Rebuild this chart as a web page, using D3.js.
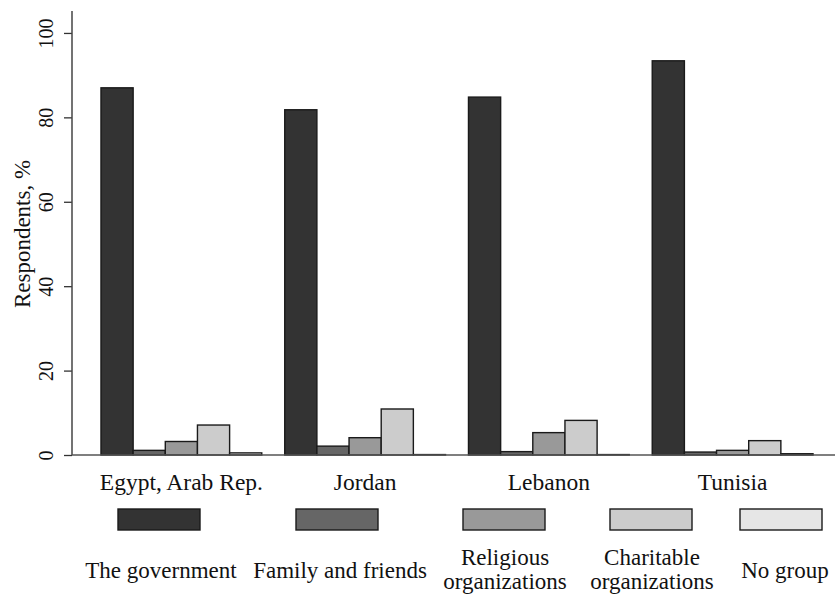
<!DOCTYPE html>
<html>
<head>
<meta charset="utf-8">
<script src="https://cdn.jsdelivr.net/npm/d3@7"></script>
<style>
	body { margin: 0; background: #fff; }
	text { font-family: "Liberation Serif", "Times New Roman", serif; fill: #111; }
</style>
</head>
<body>
<script>
// data
var countries = ["Egypt, Arab Rep.", "Jordan", "Lebanon", "Tunisia"];
var groups = ["The government", "Family and friends", "Religious organizations", "Charitable organizations", "No group"];
var government = [87.0, 81.8, 84.8, 93.4];
var family = [1.1, 2.1, 0.8, 0.7];
var religious = [3.2, 4.1, 5.3, 1.1];
var charitable = [7.1, 10.9, 8.2, 3.4];
var noGroup = [0.5, 0.1, 0.1, 0.3];
var yTicks = [0, 20, 40, 60, 80, 100];

var colours = ["#333333", "#666666", "#999999", "#cccccc", "#e6e6e6"];

var svgDims = { width: 835, height: 594 };

var svg = d3.select("body").append("svg")
	.attr("width", svgDims.width)
	.attr("height", svgDims.height);

var series = [government, family, religious, charitable, noGroup];

// one row per country, one value per group
var table = countries.map(function(c, i) {
	return { country: c, values: series.map(function(s, j) { return { key: groups[j], idx: j, value: s[i] }; }) };
});

var y = d3.scaleLinear().domain([0, 105.2]).range([455, 11]);

var x0 = d3.scaleBand()
	.domain(countries)
	.range([89.5, 824.5])
	.paddingInner(0.125)
	.paddingOuter(0.0625);

var x1 = d3.scaleBand()
	.domain(d3.range(groups.length))
	.range([0, x0.bandwidth()]);

// y axis
var yAxis = svg.append("g")
	.attr("transform", "translate(72,0)")
	.call(d3.axisLeft(y).tickValues(yTicks).tickSize(8).tickPadding(0).tickFormat(d3.format("d")));
yAxis.select(".domain").remove();
yAxis.selectAll(".tick line").attr("stroke", "#333").attr("stroke-width", 1.3);
yAxis.selectAll(".tick text")
	.attr("x", 0).attr("dy", 0)
	.attr("transform", "translate(-19,0) rotate(-90)")
	.attr("text-anchor", "middle")
	.style("font-size", "20px")
	.style("font-family", "'Liberation Serif', serif")
	.attr("fill", "#111");

svg.append("line")
	.attr("x1", 72).attr("x2", 72)
	.attr("y1", y.range()[1]).attr("y2", y(0))
	.attr("stroke", "#444").attr("stroke-width", 1.5);

svg.append("text")
	.attr("transform", "translate(30,234) rotate(-90)")
	.attr("text-anchor", "middle")
	.style("font-size", "23px")
	.text("Respondents, %");

// bars
var grp = svg.selectAll("g.country")
	.data(table)
	.enter().append("g")
	.attr("class", "country")
	.attr("transform", function(d) { return "translate(" + x0(d.country) + ",0)"; });

grp.selectAll("rect")
	.data(function(d) { return d.values; })
	.enter().append("rect")
	.attr("x", function(d) { return x1(d.idx); })
	.attr("width", x1.bandwidth())
	.attr("y", function(d) { return y(d.value); })
	.attr("height", function(d) { return y(0) - y(d.value); })
	.attr("fill", function(d) { return colours[d.idx]; })
	.attr("stroke", "#1a1a1a")
	.attr("stroke-width", 1.4);

// x baseline
svg.append("line")
	.attr("x1", 72).attr("x2", svgDims.width)
	.attr("y1", y(0)).attr("y2", y(0))
	.attr("stroke", "#555").attr("stroke-width", 1.5);

svg.selectAll("text.country-label")
	.data(countries)
	.enter().append("text")
	.attr("class", "country-label")
	.attr("x", function(d) { return x0(d) + x0.bandwidth() / 2; })
	.attr("y", 490)
	.attr("text-anchor", "middle")
	.style("font-size", "23.5px")
	.text(function(d) { return d; });

// legend
var legendX = [161, 340, 505, 652, 785];
var legend = svg.selectAll("g.legend")
	.data(groups)
	.enter().append("g")
	.attr("class", "legend")
	.attr("transform", function(d, i) { return "translate(" + legendX[i] + ",0)"; });

legend.append("rect")
	.attr("x", function(d, i) { return [118, 296, 463, 610, 740][i] - legendX[i]; })
	.attr("y", 509)
	.attr("width", 82).attr("height", 21)
	.attr("fill", function(d, i) { return colours[i]; })
	.attr("stroke", "#1a1a1a")
	.attr("stroke-width", 1.4);

legend.each(function(d) {
	var words = d.split(" ");
	var lines = (words.length == 2 && d.indexOf("organizations") > -1) ? words : [d];
	var t = d3.select(this).append("text")
		.attr("text-anchor", "middle")
		.style("font-size", "23px");
	if (lines.length == 1) {
		t.append("tspan").attr("x", 0).attr("y", 578).text(lines[0]);
	} else {
		t.append("tspan").attr("x", 0).attr("y", 565).text(lines[0]);
		t.append("tspan").attr("x", 0).attr("y", 589).text(lines[1]);
	}
});
</script>
</body>
</html>
